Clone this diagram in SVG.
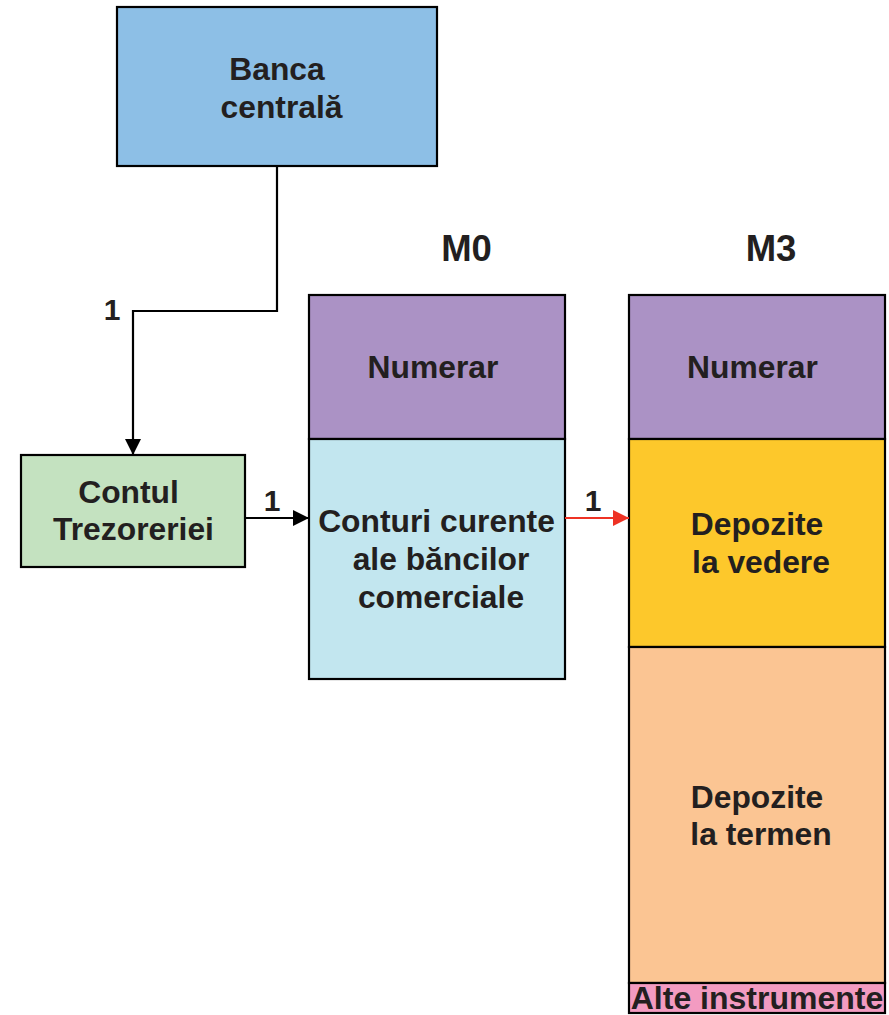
<svg xmlns="http://www.w3.org/2000/svg" width="889" height="1015" viewBox="0 0 889 1015">
  <style>
    .box { stroke: #000; stroke-width: 2.2; }
    .t { font-family: "Liberation Sans", Arial, sans-serif; font-weight: bold; font-size: 31.8px; fill: #231f20; text-anchor: middle; }
    .hdr { font-size: 36.5px; }
    .num { font-size: 30px; }
    .conn { fill: none; stroke: #000; stroke-width: 2.2; }
  </style>
  <defs>
    <marker id="ah" viewBox="0 0 10 10" refX="10" refY="5" markerWidth="16" markerHeight="16" markerUnits="userSpaceOnUse" orient="auto">
      <path d="M0,0 L10,5 L0,10 z" fill="#000"/>
    </marker>
    <marker id="ahRed" viewBox="0 0 10 10" refX="10" refY="5" markerWidth="16" markerHeight="16" markerUnits="userSpaceOnUse" orient="auto">
      <path d="M0,0 L10,5 L0,10 z" fill="#ee3224"/>
    </marker>
  </defs>

  <rect width="889" height="1015" fill="#fff"/>

  <g id="banca-centrala">
    <rect class="box" x="117" y="7" width="320" height="159" fill="#8dbfe6"/>
    <text class="t" x="277" y="80">Banca</text>
    <text class="t" x="281.5" y="118">centrală</text>
  </g>

  <g id="contul-trezoreriei">
    <rect class="box" x="21" y="455" width="224" height="112" fill="#c4e2c0"/>
    <text class="t" x="128.5" y="503">Contul</text>
    <text class="t" x="133.5" y="540">Trezoreriei</text>
  </g>

  <g id="m0">
    <text class="t hdr" x="466.5" y="261">M0</text>
    <rect class="box" x="309" y="295" width="256" height="144" fill="#ab92c5"/>
    <text class="t" x="433" y="378">Numerar</text>
    <rect class="box" x="309" y="439" width="256" height="240" fill="#c2e6ef"/>
    <text class="t" x="436.5" y="532">Conturi curente</text>
    <text class="t" x="441" y="570">ale băncilor</text>
    <text class="t" x="441" y="608">comerciale</text>
  </g>

  <g id="m3">
    <text class="t hdr" x="771" y="261">M3</text>
    <rect class="box" x="629" y="295" width="256" height="144" fill="#ab92c5"/>
    <text class="t" x="752.5" y="378">Numerar</text>
    <rect class="box" x="629" y="439" width="256" height="208" fill="#fdc82b"/>
    <text class="t" x="757" y="535">Depozite</text>
    <text class="t" x="761" y="573">la vedere</text>
    <rect class="box" x="629" y="647" width="256" height="336" fill="#fbc593"/>
    <text class="t" x="757" y="808">Depozite</text>
    <text class="t" x="761" y="845">la termen</text>
    <rect class="box" x="629" y="983" width="256" height="30" fill="#f39bc1"/>
    <text class="t" x="757" y="1009" style="font-size:32px">Alte instrumente</text>
  </g>

  <g id="connectors">
    <path class="conn" d="M277,166 V311 H133 V455" marker-end="url(#ah)"/>
    <text class="t num" x="112" y="320">1</text>
    <path class="conn" d="M245,518 H309" marker-end="url(#ah)"/>
    <text class="t num" x="272" y="511">1</text>
    <path class="conn" d="M565,518 H629" style="stroke:#ee3224" marker-end="url(#ahRed)"/>
    <text class="t num" x="593" y="511">1</text>
  </g>
</svg>
